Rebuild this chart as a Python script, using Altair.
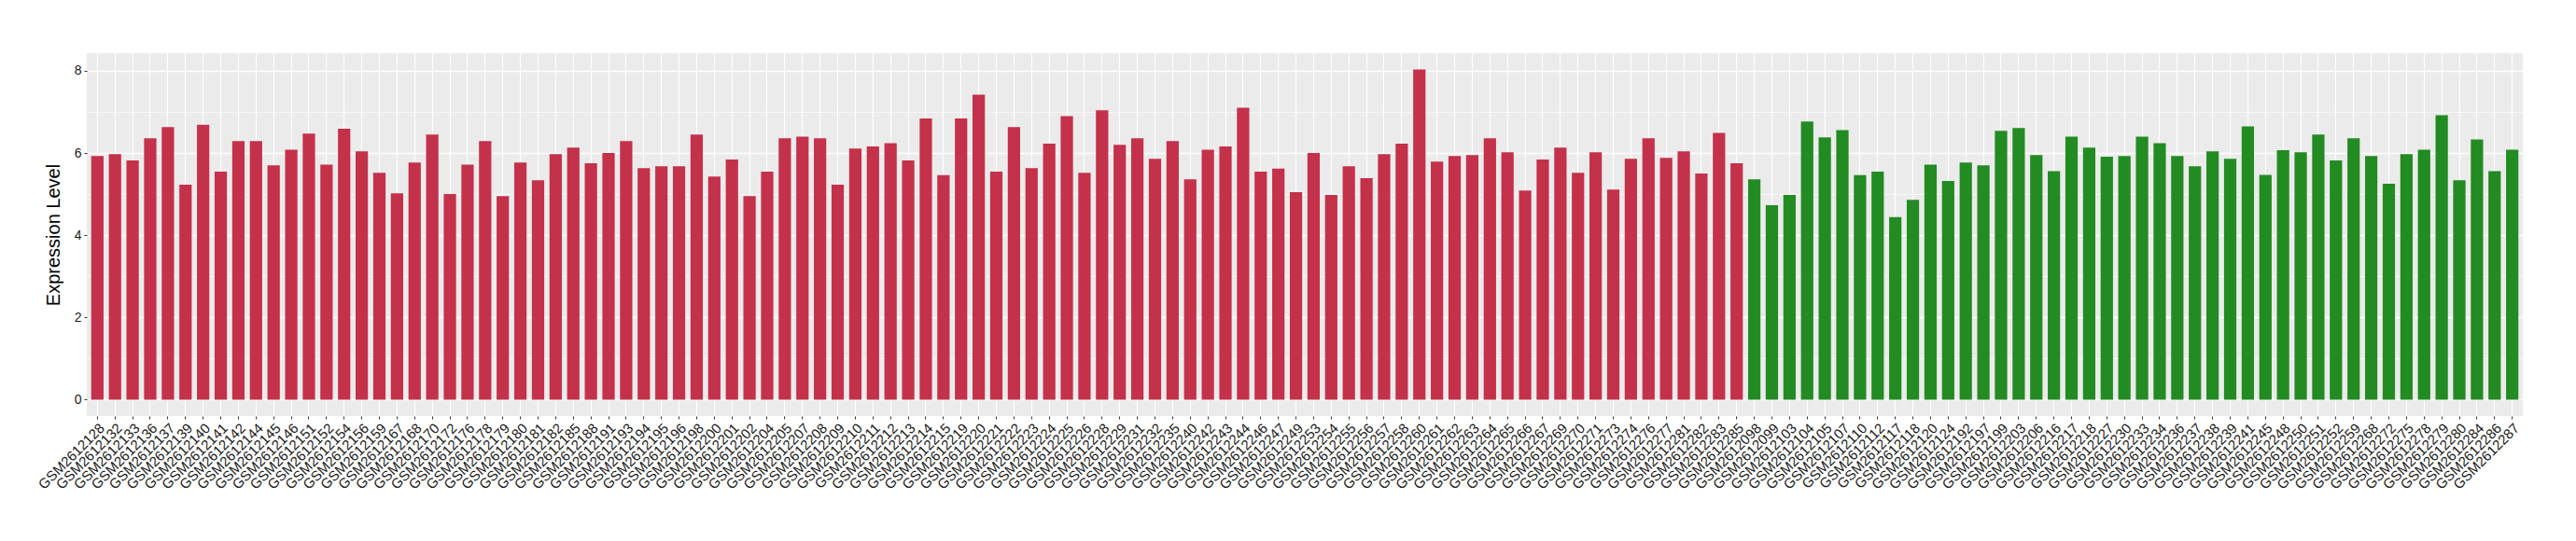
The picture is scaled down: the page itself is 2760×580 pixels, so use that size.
import altair as alt
import pandas as pd

# Sample IDs (suffix after "GSM2612") and expression values, group 1 (red)
red_ids = ["128", "132", "133", "136", "137", "139", "140", "141", "142", "144",
           "145", "146", "151", "152", "154", "156", "159", "167", "168", "170",
           "172", "176", "178", "179", "180", "181", "182", "185", "188", "191",
           "193", "194", "195", "196", "198", "200", "201", "202", "204", "205",
           "207", "208", "209", "210", "211", "212", "213", "214", "215", "219",
           "220", "221", "222", "223", "224", "225", "226", "228", "229", "231",
           "232", "235", "240", "242", "243", "244", "246", "247", "249", "253",
           "254", "255", "256", "257", "258", "260", "261", "262", "263", "264",
           "265", "266", "267", "269", "270", "271", "273", "274", "276", "277",
           "281", "282", "283", "285"]
red_vals = [5.93, 5.97, 5.82, 6.36, 6.63, 5.23, 6.69, 5.55, 6.29, 6.29,
            5.70, 6.08, 6.47, 5.72, 6.59, 6.04, 5.52, 5.02, 5.77, 6.45,
            5.00, 5.72, 6.29, 4.95, 5.77, 5.34, 5.97, 6.13, 5.75, 6.00,
            6.29, 5.63, 5.68, 5.68, 6.45, 5.43, 5.84, 4.95, 5.55, 6.36,
            6.40, 6.36, 5.23, 6.11, 6.16, 6.24, 5.82, 6.84, 5.46, 6.84,
            7.42, 5.55, 6.63, 5.63, 6.23, 6.90, 5.52, 7.04, 6.20, 6.36,
            5.86, 6.29, 5.36, 6.08, 6.16, 7.10, 5.55, 5.62, 5.05, 6.00,
            4.98, 5.68, 5.39, 5.97, 6.23, 8.03, 5.79, 5.93, 5.95, 6.36,
            6.02, 5.09, 5.84, 6.13, 5.52, 6.02, 5.11, 5.86, 6.36, 5.88,
            6.04, 5.50, 6.49, 5.75]

# Group 2 (green)
green_ids = ["098", "099", "103", "104", "105", "107", "110", "112", "117", "118",
             "120", "124", "192", "197", "199", "203", "206", "216", "217", "218",
             "227", "230", "233", "234", "236", "237", "238", "239", "241", "245",
             "248", "250", "251", "252", "259", "268", "272", "275", "278", "279",
             "280", "284", "286", "287"]
green_vals = [5.36, 4.73, 4.98, 6.77, 6.38, 6.56, 5.46, 5.55, 4.44, 4.86,
              5.72, 5.32, 5.77, 5.70, 6.54, 6.61, 5.95, 5.56, 6.40, 6.13,
              5.91, 5.93, 6.40, 6.24, 5.93, 5.68, 6.04, 5.86, 6.65, 5.47,
              6.07, 6.02, 6.45, 5.82, 6.36, 5.93, 5.25, 5.97, 6.08, 6.92,
              5.34, 6.33, 5.56, 6.08]

group_names = ["group1", "group2"]
group_colors = ["#C4314B", "#228B22"]
y_ticks = [0, 1, 2, 3, 4, 5, 6, 7, 8]

samples = ["GSM2612" + s for s in red_ids] + ["GSM2612" + s for s in green_ids]
df = pd.DataFrame({
    "sample": samples,
    "value": red_vals + green_vals,
    "group": [group_names[0]] * len(red_ids) + [group_names[1]] * len(green_ids),
})

FONT = "Liberation Sans"

chart = alt.Chart(df).mark_bar().encode(
    x=alt.X("sample:N", sort=None, title=None,
            scale=alt.Scale(paddingInner=0.3, paddingOuter=0.25),
            axis=alt.Axis(labelAngle=-45, labelAlign="right", labelBaseline="top",
                          labelFontSize=15, labelColor="#1a1a1a", labelFont=FONT,
                          labelPadding=2, tickSize=3, tickColor="#333333",
                          tickWidth=1, domain=False, grid=True, gridColor="white",
                          gridWidth=1.1, bandPosition=0.5, labelOverlap=False)),
    y=alt.Y("value:Q", title="Expression Level",
            scale=alt.Scale(domain=[-0.40, 8.43], nice=False, zero=False),
            axis=alt.Axis(values=y_ticks,
                          labelExpr="datum.value % 2 === 0 ? datum.label : ''",
                          labelFontSize=14, labelColor="#1a1a1a", labelFont=FONT,
                          labelPadding=3,
                          tickSize=3, tickColor="#333333", tickWidth=1,
                          tickOpacity=alt.condition("datum.value % 2 === 0", alt.value(1), alt.value(0)),
                          domain=False, grid=True, gridColor="white",
                          gridWidth=alt.condition("datum.value % 2 === 0", alt.value(1.3), alt.value(0.6)),
                          titleFontSize=20, titleFont=FONT, titleFontWeight="normal",
                          titleColor="black", titlePadding=12)),
    y2=alt.datum(0),
    color=alt.Color("group:N", scale=alt.Scale(domain=group_names, range=group_colors),
                    legend=None),
).properties(
    width=2610,
    height=389,
    background="white",
    autosize=alt.AutoSizeParams(type="none"),
    padding={"left": 85, "top": 49, "right": 40, "bottom": 110},
).configure_view(
    fill="#EBEBEB", strokeWidth=0
)

chart.save("out.html", embed_options={"renderer": "svg", "actions": False})
